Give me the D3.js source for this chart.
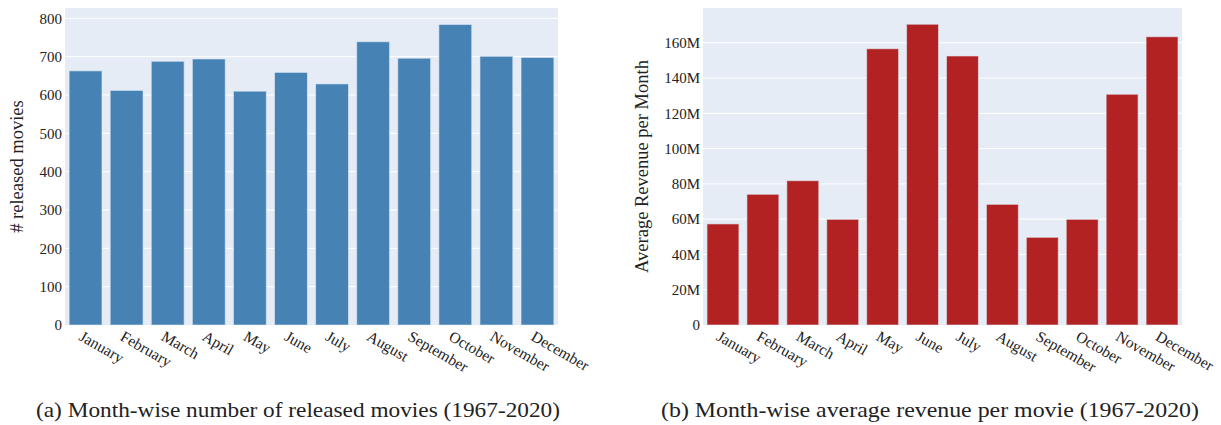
<!DOCTYPE html>
<html>
<head>
<meta charset="utf-8">
<script src="https://cdn.jsdelivr.net/npm/d3@7"></script>
<style>
  body { margin: 0; background: #fff; }
  text { font-family: "Liberation Serif", "Times New Roman", serif; fill: #222; }
</style>
</head>
<body>
<svg id="chart" width="1221" height="425"></svg>
<script>
const months = ['January', 'February', 'March', 'April', 'May', 'June',
  'July', 'August', 'September', 'October', 'November', 'December'];

// released movies per month
const releasedCounts = [663, 612, 688, 694, 610, 659, 629, 739, 696, 784, 701, 698];

// average revenue per movie, in millions
const avgRevenue = [57.3, 74.1, 81.8, 59.9, 156.6, 170.5, 152.5, 68.4, 49.7, 59.9, 130.8, 163.4];

const countTicks = [0, 100, 200, 300, 400, 500, 600, 700, 800];
const revenueTicks = [0, 20, 40, 60, 80, 100, 120, 140, 160];

const svg = d3.select('#chart');

const drawPanel = ({
  left, right, top, bottom, values, yMax, ticks, tickFormat, color,
  yTitle, titleX, caption, captionX, captionWidth,
}) => {
  const g = svg.append('g');

  const x = d3.scaleBand()
    .domain(months)
    .range([left, right])
    .paddingInner(0.2)
    .paddingOuter(0.1);

  const y = d3.scaleLinear()
    .domain([0, yMax])
    .range([bottom, top]);

  g.append('rect')
    .attr('x', left)
    .attr('y', top)
    .attr('width', right - left)
    .attr('height', bottom - top)
    .attr('fill', '#E5ECF6');

  g.append('g')
    .selectAll('line')
    .data(ticks.filter((d) => d > 0))
    .join('line')
    .attr('x1', left)
    .attr('x2', right)
    .attr('y1', (d) => y(d))
    .attr('y2', (d) => y(d))
    .attr('stroke', '#fff')
    .attr('stroke-width', 1);

  g.append('g')
    .selectAll('rect')
    .data(values)
    .join('rect')
    .attr('x', (d, i) => x(months[i]))
    .attr('y', (d) => y(d))
    .attr('width', x.bandwidth())
    .attr('height', (d) => y(0) - y(d))
    .attr('fill', color)
    .attr('stroke', '#E5ECF6')
    .attr('stroke-opacity', 0.6)
    .attr('stroke-width', 1);

  const yAxis = d3.axisLeft(y)
    .tickValues(ticks)
    .tickFormat(tickFormat)
    .tickSize(0)
    .tickPadding(3);

  g.append('g')
    .attr('transform', `translate(${left},0)`)
    .call(yAxis)
    .attr('font-family', '"Liberation Serif", serif')
    .attr('font-size', 15)
    .call((a) => a.select('.domain').remove())
    .selectAll('text')
    .attr('fill', '#222');

  g.append('g')
    .selectAll('text')
    .data(months)
    .join('text')
    .attr('transform', (d) => `translate(${x(d) + x.bandwidth() / 2 - 2},${bottom + 5}) rotate(30)`)
    .attr('dy', '0.7em')
    .attr('font-size', 15.5)
    .attr('text-anchor', 'start')
    .text((d) => d);

  g.append('text')
    .attr('transform', `translate(${titleX},${(top + bottom) / 2}) rotate(-90)`)
    .attr('text-anchor', 'middle')
    .attr('font-size', 18.5)
    .text(yTitle);

  svg.append('text')
    .attr('x', captionX)
    .attr('y', 417)
    .attr('text-anchor', 'middle')
    .attr('font-size', 22)
    .attr('textLength', captionWidth)
    .attr('lengthAdjust', 'spacingAndGlyphs')
    .text(caption);
};

drawPanel({
  left: 65,
  right: 558,
  top: 8,
  bottom: 325,
  values: releasedCounts,
  yMax: 827,
  ticks: countTicks,
  tickFormat: d3.format('d'),
  color: '#4682B4',
  yTitle: '# released movies',
  titleX: 23,
  caption: '(a) Month-wise number of released movies (1967-2020)',
  captionX: 298,
  captionWidth: 524,
});

drawPanel({
  left: 703,
  right: 1182,
  top: 8,
  bottom: 325,
  values: avgRevenue,
  yMax: 179.7,
  ticks: revenueTicks,
  tickFormat: (d) => (d === 0 ? '0' : `${d}M`),
  color: '#B22222',
  yTitle: 'Average Revenue per Month',
  titleX: 648,
  caption: '(b) Month-wise average revenue per movie (1967-2020)',
  captionX: 930,
  captionWidth: 538,
});
</script>
</body>
</html>
